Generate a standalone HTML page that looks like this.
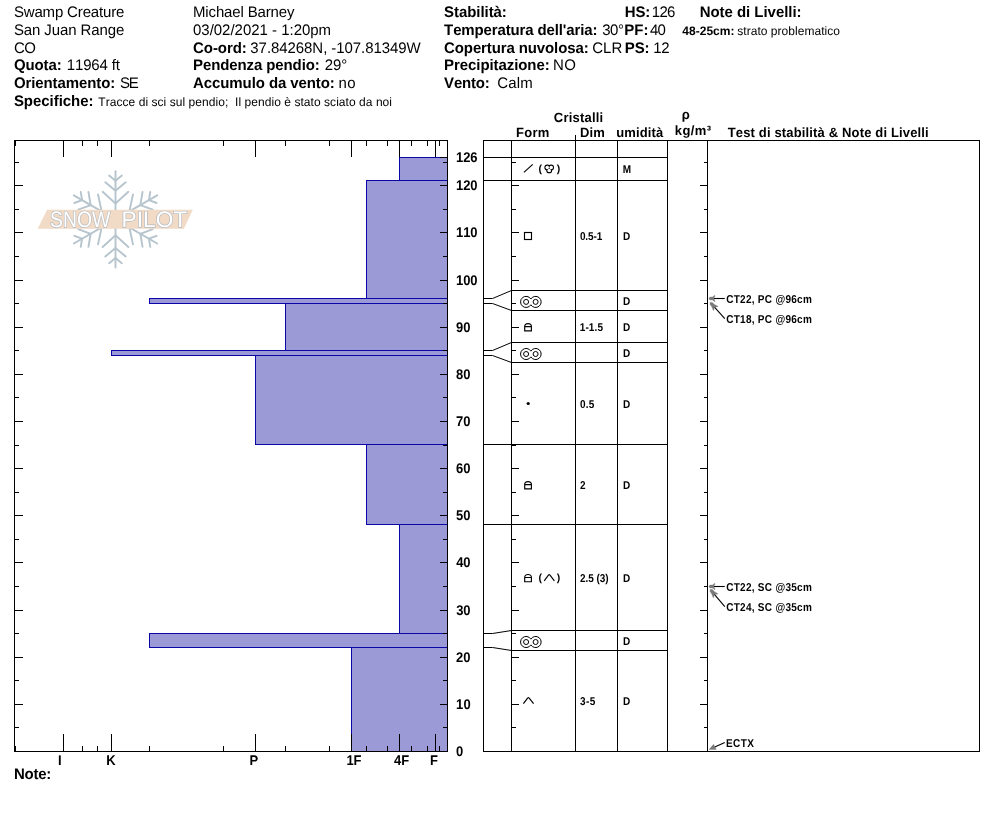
<!DOCTYPE html>
<html lang="it"><head><meta charset="utf-8"><title>Snow Pilot - Swamp Creature</title>
<style>
html,body{margin:0;padding:0;background:#fff;}
body{width:994px;height:840px;position:relative;overflow:hidden;font-family:"Liberation Sans", sans-serif;color:#000;}
svg{position:absolute;left:0;top:0;}
svg text{font-family:"Liberation Sans", sans-serif;font-kerning:none;text-rendering:geometricPrecision;white-space:pre;}
</style></head><body>
<svg xml:space="preserve" width="994" height="840" viewBox="0 0 994 840">
<g fill="#000">
<text transform="translate(13.9 16.7) scale(1 1.02)" font-size="15" font-weight="normal" letter-spacing="-0.160">Swamp Creature</text>
<text transform="translate(13.9 34.6) scale(1 1.02)" font-size="15" font-weight="normal" letter-spacing="-0.099">San Juan Range</text>
<text transform="translate(13.9 52.5) scale(1 1.02)" font-size="15" font-weight="normal" letter-spacing="-0.482">CO</text>
<text transform="translate(13.9 70.4) scale(1 1.02)" font-size="15" font-weight="bold" letter-spacing="-0.096">Quota:</text>
<text transform="translate(66.86 70.4) scale(1 1.02)" font-size="15" font-weight="normal" letter-spacing="-0.180">11964 ft</text>
<text transform="translate(13.9 88.3) scale(1 1.02)" font-size="15" font-weight="bold" letter-spacing="-0.097">Orientamento:</text>
<text transform="translate(119.92 88.3) scale(1 1.02)" font-size="15" font-weight="normal" letter-spacing="-1.084">SE</text>
<text transform="translate(13.9 106.2) scale(1 1.02)" font-size="15" font-weight="bold" letter-spacing="-0.038">Specifiche:</text>
<text transform="translate(98.33 106.2) scale(1 1.02)" font-size="12" font-weight="normal" letter-spacing="0.050">Tracce di sci sul pendio;  Il pendio è stato sciato da noi</text>
<text transform="translate(193 16.7) scale(1 1.02)" font-size="15" font-weight="normal" letter-spacing="-0.150">Michael Barney</text>
<text transform="translate(193 34.6) scale(1 1.02)" font-size="15" font-weight="normal" letter-spacing="-0.019">03/02/2021 - 1:20pm</text>
<text transform="translate(193 52.5) scale(1 1.02)" font-size="15" font-weight="bold" letter-spacing="-0.051">Co-ord:</text>
<text transform="translate(250.33 52.5) scale(1 1.02)" font-size="15" font-weight="normal" letter-spacing="-0.065">37.84268N, -107.81349W</text>
<text transform="translate(193 70.4) scale(1 1.02)" font-size="15" font-weight="bold" letter-spacing="-0.107">Pendenza pendio:</text>
<text transform="translate(324.65 70.4) scale(1 1.02)" font-size="15" font-weight="normal" letter-spacing="-0.064">29°</text>
<text transform="translate(193 88.3) scale(1 1.02)" font-size="15" font-weight="bold" letter-spacing="-0.089">Accumulo da vento:</text>
<text transform="translate(338.4 88.3) scale(1 1.02)" font-size="15" font-weight="normal" letter-spacing="0.450">no</text>
<text transform="translate(444.1 16.7) scale(1 1.02)" font-size="15" font-weight="bold" letter-spacing="-0.066">Stabilità:</text>
<text transform="translate(444.1 34.6) scale(1 1.02)" font-size="15" font-weight="bold" letter-spacing="-0.132">Temperatura dell'aria:</text>
<text transform="translate(602.13 34.6) scale(1 1.02)" font-size="15" font-weight="normal" letter-spacing="-0.405">30°</text>
<text transform="translate(444.1 52.5) scale(1 1.02)" font-size="15" font-weight="bold" letter-spacing="-0.119">Copertura nuvolosa:</text>
<text transform="translate(592.24 52.5) scale(1 1.02)" font-size="15" font-weight="normal" letter-spacing="0.025">CLR</text>
<text transform="translate(444.1 70.4) scale(1 1.02)" font-size="15" font-weight="bold" letter-spacing="-0.082">Precipitazione:</text>
<text transform="translate(552.97 70.4) scale(1 1.02)" font-size="15" font-weight="normal" letter-spacing="0.348">NO</text>
<text transform="translate(444.1 88.3) scale(1 1.02)" font-size="15" font-weight="bold" letter-spacing="-0.204">Vento:</text>
<text transform="translate(497.14 88.3) scale(1 1.02)" font-size="15" font-weight="normal" letter-spacing="0.216">Calm</text>
<text transform="translate(624.8 16.7) scale(1 1.02)" font-size="15" font-weight="bold" letter-spacing="-0.143">HS:</text>
<text transform="translate(651.86 16.7) scale(1 1.02)" font-size="15" font-weight="normal" letter-spacing="-0.763">126</text>
<text transform="translate(624.3 34.6) scale(1 1.02)" font-size="15" font-weight="bold" letter-spacing="0.042">PF:</text>
<text transform="translate(649.96 34.6) scale(1 1.02)" font-size="15" font-weight="normal" letter-spacing="-0.854">40</text>
<text transform="translate(624.8 52.5) scale(1 1.02)" font-size="15" font-weight="bold" letter-spacing="-0.179">PS:</text>
<text transform="translate(653.16 52.5) scale(1 1.02)" font-size="15" font-weight="normal" letter-spacing="-0.288">12</text>
<text transform="translate(699.7 16.7) scale(1 1.02)" font-size="15" font-weight="bold" letter-spacing="-0.044">Note di Livelli:</text>
<text transform="translate(682.32 35) scale(1 1.02)" font-size="12" font-weight="bold" letter-spacing="0.015">48-25cm:</text>
<text transform="translate(737.27 35) scale(1 1.02)" font-size="12" font-weight="normal" letter-spacing="0.033">strato problematico</text>
<text transform="translate(13.9 778.8) scale(1 1.02)" font-size="15" font-weight="bold" letter-spacing="-0.221">Note:</text>
</g>
<g id="logo" opacity="1">
<g stroke="#b6c4cd" stroke-width="1.9" stroke-linecap="round" fill="none">
<g transform="rotate(0 115.5 219.4)"><path d="M115.5 219.4 V171.3"/><path d="M109.15 175.6 L115.5 180.8 L121.85 175.6"/><path d="M105.3 182.3 L115.5 190.7 L125.7 182.3"/><path d="M102.65 191.8 L115.5 203.4 L128.35 191.8"/></g>
<g transform="rotate(60 115.5 219.4)"><path d="M115.5 219.4 V171.3"/><path d="M109.15 175.6 L115.5 180.8 L121.85 175.6"/><path d="M105.3 182.3 L115.5 190.7 L125.7 182.3"/><path d="M102.65 191.8 L115.5 203.4 L128.35 191.8"/></g>
<g transform="rotate(120 115.5 219.4)"><path d="M115.5 219.4 V171.3"/><path d="M109.15 175.6 L115.5 180.8 L121.85 175.6"/><path d="M105.3 182.3 L115.5 190.7 L125.7 182.3"/><path d="M102.65 191.8 L115.5 203.4 L128.35 191.8"/></g>
<g transform="rotate(180 115.5 219.4)"><path d="M115.5 219.4 V171.3"/><path d="M109.15 175.6 L115.5 180.8 L121.85 175.6"/><path d="M105.3 182.3 L115.5 190.7 L125.7 182.3"/><path d="M102.65 191.8 L115.5 203.4 L128.35 191.8"/></g>
<g transform="rotate(240 115.5 219.4)"><path d="M115.5 219.4 V171.3"/><path d="M109.15 175.6 L115.5 180.8 L121.85 175.6"/><path d="M105.3 182.3 L115.5 190.7 L125.7 182.3"/><path d="M102.65 191.8 L115.5 203.4 L128.35 191.8"/></g>
<g transform="rotate(300 115.5 219.4)"><path d="M115.5 219.4 V171.3"/><path d="M109.15 175.6 L115.5 180.8 L121.85 175.6"/><path d="M105.3 182.3 L115.5 190.7 L125.7 182.3"/><path d="M102.65 191.8 L115.5 203.4 L128.35 191.8"/></g>
</g>
<path d="M47.1 209.8 H192.8 L183.9 228.8 H37.7 Z" fill="#f1dac6"/>
<g font-size="22.4" fill="#fff" stroke="#b4babf" stroke-width="1.4" paint-order="stroke" style="font-family:'Liberation Sans',sans-serif">
<text x="50" y="227.2" textLength="60.4" lengthAdjust="spacingAndGlyphs">SNOW</text>
<text x="121.6" y="227.2" textLength="65.6" lengthAdjust="spacingAndGlyphs">PILOT</text>
</g>
</g>
<g fill="#9c9ad6" stroke="#0a06a8" stroke-width="1">
<rect x="399.5" y="157.5" width="48" height="23"/>
<rect x="366.5" y="180.5" width="81" height="118"/>
<rect x="149.5" y="298.5" width="298" height="5"/>
<rect x="285.5" y="303.5" width="162" height="47"/>
<rect x="111.5" y="350.5" width="336" height="5"/>
<rect x="255.5" y="355.5" width="192" height="89"/>
<rect x="366.5" y="444.5" width="81" height="80"/>
<rect x="399.5" y="524.5" width="48" height="109"/>
<rect x="149.5" y="633.5" width="298" height="14"/>
<rect x="351.5" y="647.5" width="96" height="104"/>
</g>
<g stroke="#000" stroke-width="1" fill="none" shape-rendering="crispEdges">
<rect x="14.5" y="140.5" width="433" height="611"/>
<path d="M15.5 140 V146 M15.5 746 V752"/>
<path d="M63.5 140V157M63.5 734V752M111.5 140V157M111.5 734V752M255.5 140V157M255.5 734V752M351.5 140V157M351.5 734V752M399.5 140V157M399.5 734V752M435.5 140V157M435.5 734V752M82.5 140V146M82.5 746V752M97.5 140V146M97.5 746V752M149.5 140V146M149.5 746V752M223.5 140V146M223.5 746V752M285.5 140V146M285.5 746V752M329.5 140V146M329.5 746V752M366.5 140V146M366.5 746V752M387.5 140V146M387.5 746V752M411.5 140V146M411.5 746V752M427.5 140V146M427.5 746V752M439.5 140V146M439.5 746V752"/>
<path d="M15 751.5H23M440 751.5H448M512 751.5H519M700 751.5H707M15 727.5H19M443 727.5H448M512 727.5H516M704 727.5H707M15 704.5H23M440 704.5H448M512 704.5H519M700 704.5H707M15 680.5H19M443 680.5H448M512 680.5H516M704 680.5H707M15 657.5H23M440 657.5H448M512 657.5H519M700 657.5H707M15 633.5H19M443 633.5H448M512 633.5H516M704 633.5H707M15 610.5H23M440 610.5H448M512 610.5H519M700 610.5H707M15 586.5H19M443 586.5H448M512 586.5H516M704 586.5H707M15 562.5H23M440 562.5H448M512 562.5H519M700 562.5H707M15 539.5H19M443 539.5H448M512 539.5H516M704 539.5H707M15 515.5H23M440 515.5H448M512 515.5H519M700 515.5H707M15 492.5H19M443 492.5H448M512 492.5H516M704 492.5H707M15 468.5H23M440 468.5H448M512 468.5H519M700 468.5H707M15 445.5H19M443 445.5H448M512 445.5H516M704 445.5H707M15 421.5H23M440 421.5H448M512 421.5H519M700 421.5H707M15 397.5H19M443 397.5H448M512 397.5H516M704 397.5H707M15 374.5H23M440 374.5H448M512 374.5H519M700 374.5H707M15 350.5H19M443 350.5H448M512 350.5H516M704 350.5H707M15 327.5H23M440 327.5H448M512 327.5H519M700 327.5H707M15 303.5H19M443 303.5H448M512 303.5H516M704 303.5H707M15 280.5H23M440 280.5H448M512 280.5H519M700 280.5H707M15 256.5H19M443 256.5H448M512 256.5H516M704 256.5H707M15 232.5H23M440 232.5H448M512 232.5H519M700 232.5H707M15 209.5H19M443 209.5H448M512 209.5H516M704 209.5H707M15 185.5H23M440 185.5H448M512 185.5H519M700 185.5H707M15 162.5H19M443 162.5H448M512 162.5H516M704 162.5H707M440 157.5H448"/>
<rect x="483.5" y="140.5" width="496" height="611"/>
<path d="M511.5 140V752 M575.5 135V752 M617.5 140V752 M667.5 140V752 M707.5 140V752"/>
<path d="M483 157.5H668M483 180.5H668M483 444.5H668M483 524.5H668M511 290.5H668M511 310.5H668M511 342.5H668M511 362.5H668M511 630.5H668M511 650.5H668"/>
</g>
<g stroke="#000" stroke-width="1" fill="none">
<path d="M483.5 298.5 H492.5 L511.5 290.5"/>
<path d="M483.5 303.5 H492.5 L511.5 310.5"/>
<path d="M483.5 350.5 H492.5 L511.5 342.5"/>
<path d="M483.5 355.5 H492.5 L511.5 362.5"/>
<path d="M483.5 633.5 H492.5 L511.5 630.5"/>
<path d="M483.5 647.5 H492.5 L511.5 650.5"/>
</g>
<g fill="#000">
<text transform="translate(455.98 162) scale(1 1.08)" font-size="13" font-weight="bold" letter-spacing="-0.076">126</text>
<text transform="translate(455.98 190) scale(1 1.08)" font-size="13" font-weight="bold" letter-spacing="-0.044">120</text>
<text transform="translate(455.98 237) scale(1 1.08)" font-size="13" font-weight="bold" letter-spacing="-0.044">110</text>
<text transform="translate(455.98 285) scale(1 1.08)" font-size="13" font-weight="bold" letter-spacing="-0.044">100</text>
<text transform="translate(456 332) scale(1 1.08)" font-size="13" font-weight="bold" letter-spacing="-0.076">90</text>
<text transform="translate(456.04 379) scale(1 1.08)" font-size="13" font-weight="bold" letter-spacing="-0.114">80</text>
<text transform="translate(455.89 426) scale(1 1.08)" font-size="13" font-weight="bold" letter-spacing="0.032">70</text>
<text transform="translate(455.97 473) scale(1 1.08)" font-size="13" font-weight="bold" letter-spacing="-0.051">60</text>
<text transform="translate(456.05 520) scale(1 1.08)" font-size="13" font-weight="bold" letter-spacing="-0.127">50</text>
<text transform="translate(456.25 567) scale(1 1.08)" font-size="13" font-weight="bold" letter-spacing="-0.330">40</text>
<text transform="translate(456.15 615) scale(1 1.08)" font-size="13" font-weight="bold" letter-spacing="-0.228">30</text>
<text transform="translate(456 662) scale(1 1.08)" font-size="13" font-weight="bold" letter-spacing="-0.076">20</text>
<text transform="translate(455.98 709) scale(1 1.08)" font-size="13" font-weight="bold" letter-spacing="0.292">10</text>
<text transform="translate(455.94 756) scale(1 1.08)" font-size="13" font-weight="bold" letter-spacing="0.000">0</text>
</g>
<g fill="#000">
<text transform="translate(58.03 764.8) scale(1 1.08)" font-size="13" font-weight="bold" letter-spacing="0.000">I</text>
<text transform="translate(106.13 764.8) scale(1 1.08)" font-size="13" font-weight="bold" letter-spacing="0.000">K</text>
<text transform="translate(249.53 764.8) scale(1 1.08)" font-size="13" font-weight="bold" letter-spacing="0.000">P</text>
<text transform="translate(346.38 764.8) scale(1 1.08)" font-size="13" font-weight="bold" letter-spacing="0.000">1F</text>
<text transform="translate(394.1 764.8) scale(1 1.08)" font-size="13" font-weight="bold" letter-spacing="0.000">4F</text>
<text transform="translate(430.03 764.8) scale(1 1.08)" font-size="13" font-weight="bold" letter-spacing="0.000">F</text>
</g>
<g fill="#000">
<text transform="translate(553.77 122.3) scale(1 1.03)" font-size="13" font-weight="bold" letter-spacing="0.221">Cristalli</text>
<text transform="translate(515.93 137.4) scale(1 1.03)" font-size="13" font-weight="bold" letter-spacing="0.292">Form</text>
<text transform="translate(580.03 137.4) scale(1 1.03)" font-size="13" font-weight="bold" letter-spacing="0.108">Dim</text>
<text transform="translate(616.29 137.4) scale(1 1.03)" font-size="13" font-weight="bold" letter-spacing="0.108">umidità</text>
<text transform="translate(681.73 119) scale(1 1.03)" font-size="13" font-weight="bold" letter-spacing="0.000">ρ</text>
<text transform="translate(674.79 134.8) scale(1 1.03)" font-size="13" font-weight="bold" letter-spacing="0.379">kg/m³</text>
<text transform="translate(727.75 137.4) scale(1 1.03)" font-size="13" font-weight="bold" letter-spacing="0.153">Test di stabilità &amp; Note di Livelli</text>
</g>
<g fill="#000">
<text transform="translate(622.63 173.3) scale(1 1.13)" font-size="10" font-weight="bold" letter-spacing="0.000">M</text>
<text transform="translate(579.9 239.8) scale(1 1.13)" font-size="10" font-weight="bold" letter-spacing="-0.105">0.5-1</text>
<text transform="translate(622.93 239.8) scale(1 1.13)" font-size="10" font-weight="bold" letter-spacing="0.000">D</text>
<text transform="translate(622.93 304.8) scale(1 1.13)" font-size="10" font-weight="bold" letter-spacing="0.000">D</text>
<text transform="translate(579.67 330.8) scale(1 1.13)" font-size="10" font-weight="bold" letter-spacing="0.154">1-1.5</text>
<text transform="translate(622.93 330.8) scale(1 1.13)" font-size="10" font-weight="bold" letter-spacing="0.000">D</text>
<text transform="translate(622.93 356.8) scale(1 1.13)" font-size="10" font-weight="bold" letter-spacing="0.000">D</text>
<text transform="translate(579.9 407.8) scale(1 1.13)" font-size="10" font-weight="bold" letter-spacing="0.236">0.5</text>
<text transform="translate(622.93 407.8) scale(1 1.13)" font-size="10" font-weight="bold" letter-spacing="0.000">D</text>
<text transform="translate(579.95 488.8) scale(1 1.13)" font-size="10" font-weight="bold" letter-spacing="0.000">2</text>
<text transform="translate(622.93 488.8) scale(1 1.13)" font-size="10" font-weight="bold" letter-spacing="0.000">D</text>
<text transform="translate(579.95 581.8) scale(1 1.13)" font-size="10" font-weight="bold" letter-spacing="-0.026">2.5 (3)</text>
<text transform="translate(622.93 581.8) scale(1 1.13)" font-size="10" font-weight="bold" letter-spacing="0.000">D</text>
<text transform="translate(622.93 644.8) scale(1 1.13)" font-size="10" font-weight="bold" letter-spacing="0.000">D</text>
<text transform="translate(580.07 705.3) scale(1 1.13)" font-size="10" font-weight="bold" letter-spacing="0.377">3-5</text>
<text transform="translate(622.93 705.3) scale(1 1.13)" font-size="10" font-weight="bold" letter-spacing="0.000">D</text>
</g>
<g stroke="#000" stroke-width="1.15" fill="none">
<path d="M523.9 172.4 L532.7 164.4"/>
<circle cx="547.3" cy="167.5" r="2.3" stroke-width="1.3"/><circle cx="551.1" cy="167.5" r="2.3" stroke-width="1.3"/><circle cx="549.2" cy="170.4" r="2.3" stroke-width="1.3"/>
<g fill="#fff" stroke="none"><circle cx="547.3" cy="167.5" r="1.7"/><circle cx="551.1" cy="167.5" r="1.7"/><circle cx="549.2" cy="170.4" r="1.7"/></g>
<rect x="524.5" y="232.5" width="7" height="7"/>
<path stroke-width="1" d="M530.85 299.03 A5.55 5.55 0 1 0 530.85 304.77 A5.55 5.55 0 1 0 530.85 299.03 Z"/>
<circle stroke-width="1" cx="526.1" cy="301.9" r="2.5"/><circle stroke-width="1" cx="535.6" cy="301.9" r="2.5"/>
<path stroke-width="1" d="M530.85 351.13 A5.55 5.55 0 1 0 530.85 356.87 A5.55 5.55 0 1 0 530.85 351.13 Z"/>
<circle stroke-width="1" cx="526.1" cy="354" r="2.5"/><circle stroke-width="1" cx="535.6" cy="354" r="2.5"/>
<path stroke-width="1" d="M530.85 639.13 A5.55 5.55 0 1 0 530.85 644.87 A5.55 5.55 0 1 0 530.85 639.13 Z"/>
<circle stroke-width="1" cx="526.1" cy="642" r="2.5"/><circle stroke-width="1" cx="535.6" cy="642" r="2.5"/>
<path d="M524.7 330.8 V326.55 Q524.7 323.55 528.05 323.55 Q531.4 323.55 531.4 326.55 V330.8 Z M524.7 326.55 H531.4"/>
<path d="M524.7 488.8 V484.55 Q524.7 481.55 528.05 481.55 Q531.4 481.55 531.4 484.55 V488.8 Z M524.7 484.55 H531.4"/>
<path d="M524.7 581.7 V577.45 Q524.7 574.45 528.05 574.45 Q531.4 574.45 531.4 577.45 V581.7 Z M524.7 577.45 H531.4"/>
<path d="M544.2 580.8 L548.4 575.2 Q549.2 574 550 575.2 L554.4 580.8" stroke-linejoin="round"/>
<path d="M523.4 703.7 L527.6 698.1 Q528.4 696.9 529.2 698.1 L533.6 703.7" stroke-linejoin="round"/>
</g>
<circle cx="528.2" cy="403.5" r="1.6" fill="#000"/>
<g font-size="10.5" font-weight="bold" fill="#000">
<text x="538.5" y="171.6">(</text><text x="556.7" y="171.6">)</text>
<text x="538.5" y="580.7">(</text><text x="556.7" y="580.7">)</text>
</g>
<g fill="#000">
<text transform="translate(726.19 302.6) scale(1 1.14)" font-size="10" font-weight="bold" letter-spacing="0.279">CT22, PC @96cm</text>
<text transform="translate(726.19 322.7) scale(1 1.14)" font-size="10" font-weight="bold" letter-spacing="0.279">CT18, PC @96cm</text>
<text transform="translate(726.19 590.7) scale(1 1.14)" font-size="10" font-weight="bold" letter-spacing="0.279">CT22, SC @35cm</text>
<text transform="translate(726.19 610.7) scale(1 1.14)" font-size="10" font-weight="bold" letter-spacing="0.279">CT24, SC @35cm</text>
<text transform="translate(725.93 746.8) scale(1 1.14)" font-size="10" font-weight="bold" letter-spacing="0.450">ECTX</text>
</g>
<path d="M724.8 298.5 L713.5 298.5" stroke="#000" stroke-width="1.1" fill="none"/>
<path transform="translate(708.9 298.5) rotate(180)" d="M0 0 L-1 -1.5 L-3.6 -1.6 L-5.9 -3.3 L-6.2 -2.5 L-4.8 0 L-6.2 2.5 L-5.9 3.3 L-3.6 1.6 L-1 1.5 Z" fill="#7a7a7a" stroke="#7a7a7a" stroke-width="0.3"/>
<path d="M724.8 318.7 L714.22 306.83" stroke="#000" stroke-width="1.1" fill="none"/>
<path transform="translate(710.1 302.2) rotate(-131.7)" d="M0 0 L-1.6 -1.5 L-4.6 -1.8 L-8.3 -3.1 L-8.4 -2.4 L-6.3 0 L-8.4 2.4 L-8.3 3.1 L-4.6 1.8 L-1.6 1.5 Z" fill="#7a7a7a" stroke="#7a7a7a" stroke-width="0.3"/>
<path d="M724.8 586.5 L713.5 586.5" stroke="#000" stroke-width="1.1" fill="none"/>
<path transform="translate(708.9 586.5) rotate(180)" d="M0 0 L-1 -1.5 L-3.6 -1.6 L-5.9 -3.3 L-6.2 -2.5 L-4.8 0 L-6.2 2.5 L-5.9 3.3 L-3.6 1.6 L-1 1.5 Z" fill="#7a7a7a" stroke="#7a7a7a" stroke-width="0.3"/>
<path d="M724.8 606.7 L714.19 594.05" stroke="#000" stroke-width="1.1" fill="none"/>
<path transform="translate(710.2 589.3) rotate(-130)" d="M0 0 L-1.6 -1.5 L-4.6 -1.8 L-8.3 -3.1 L-8.4 -2.4 L-6.3 0 L-8.4 2.4 L-8.3 3.1 L-4.6 1.8 L-1.6 1.5 Z" fill="#7a7a7a" stroke="#7a7a7a" stroke-width="0.3"/>
<path d="M724.8 742.4 L714.2 747.19" stroke="#000" stroke-width="1.1" fill="none"/>
<path transform="translate(709.1 749.5) rotate(155.67)" d="M0 0 L-6.6 -2.9 L-6.2 2.9 Z" fill="#7a7a7a" stroke="#7a7a7a" stroke-width="0.3"/>
</svg>
</body></html>
